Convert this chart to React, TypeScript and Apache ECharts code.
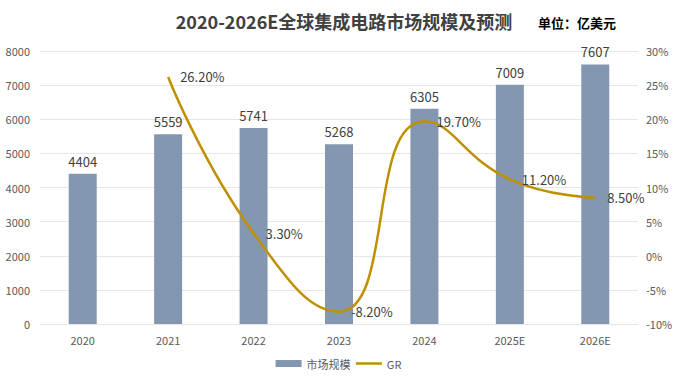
import React, { useEffect, useRef } from "react";
import * as echarts from "echarts";

const categories = ["2020", "2021", "2022", "2023", "2024", "2025E", "2026E"];
const marketSize = [4404, 5559, 5741, 5268, 6305, 7009, 7607];
const growthRate = [null, 26.2, 3.3, -8.2, 19.7, 11.2, 8.5];

export default function App() {
  const ref = useRef<HTMLDivElement>(null);
  useEffect(() => {
    const chart = echarts.init(ref.current!, null, { renderer: "svg" });
    const font = "'Microsoft YaHei', 'Noto Sans CJK SC', 'Noto Sans', sans-serif";
    chart.setOption({
      animation: false,
      textStyle: { fontFamily: font },
      title: [
        {
          text: "2020-2026E全球集成电路市场规模及预测",
          left: 339,
          top: 7,
          textAlign: "center",
          textStyle: { fontSize: 18, fontWeight: "bold", color: "#404040", fontFamily: font },
        },
        {
          text: "单位：亿美元",
          left: 533,
          top: 11,
          textStyle: { fontSize: 13, fontWeight: "bold", color: "#000", fontFamily: font },
        },
      ],
      legend: {
        bottom: 5,
        left: "center",
        itemGap: 4,
        itemWidth: 26,
        itemHeight: 7,
        textStyle: { fontSize: 11, color: "#595959" },
        data: [
          { name: "市场规模", icon: "rect" },
          { name: "GR", itemStyle: { opacity: 0 }, lineStyle: { color: "#BF9000", width: 2.5 } },
        ],
      },
      grid: { left: 40, right: 39, top: 51, bottom: 55, containLabel: false },
      xAxis: {
        type: "category",
        data: categories,
        axisTick: { show: false },
        axisLine: { show: false },
        axisLabel: { color: "#595959", fontSize: 11, margin: 10 },
      },
      yAxis: [
        {
          type: "value",
          min: 0,
          max: 8000,
          interval: 1000,
          axisLabel: { color: "#595959", fontSize: 11, margin: 10, formatter: (v: number) => String(v) },
          splitLine: { lineStyle: { color: "#E6E6E6" } },
        },
        {
          type: "value",
          min: -10,
          max: 30,
          interval: 5,
          axisLabel: { color: "#595959", fontSize: 11, formatter: "{value}%", margin: 8 },
          splitLine: { show: false },
        },
      ],
      series: [
        {
          name: "市场规模",
          type: "bar",
          data: marketSize,
          barWidth: 28,
          itemStyle: { color: "#8497B0" },
          label: { show: true, position: "top", color: "#404040", fontSize: 13, distance: 6 },
        },
        {
          name: "GR",
          type: "line",
          yAxisIndex: 1,
          data: growthRate,
          smooth: 0.5,
          symbol: "circle",
          symbolSize: 0,
          showSymbol: true,
          lineStyle: { color: "#BF9000", width: 2.5 },
          itemStyle: { color: "#BF9000" },
          label: {
            show: true,
            position: "right",
            distance: 12,
            color: "#404040",
            fontSize: 13,
            formatter: (p: any) => (p.value == null ? "" : Number(p.value).toFixed(2) + "%"),
          },
        },
      ],
    });
    return () => chart.dispose();
  }, []);
  return <div ref={ref} style={{ position: "absolute", left: 0, top: 0, width: 677, height: 379 }} />;
}
